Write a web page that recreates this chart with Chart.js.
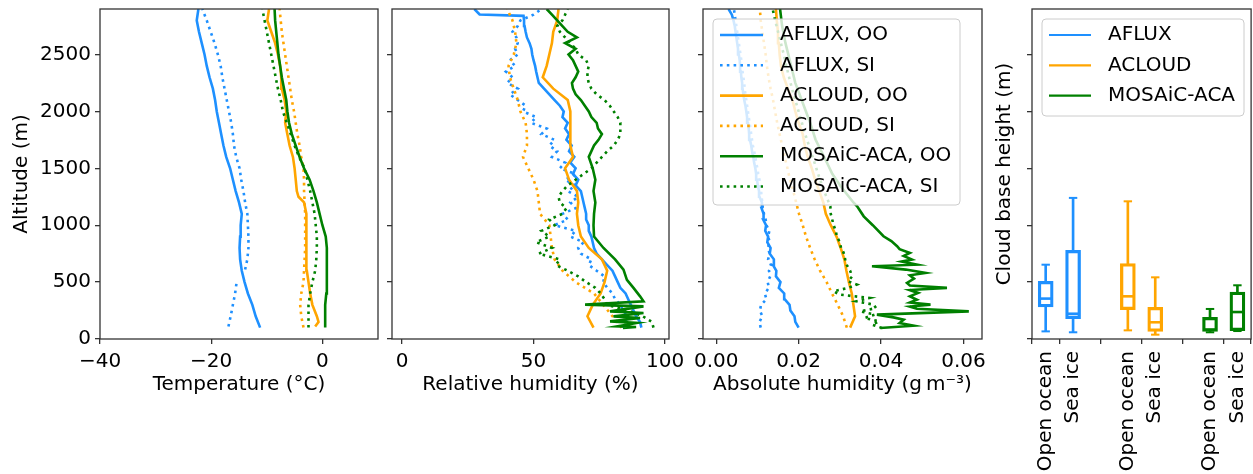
<!DOCTYPE html>
<html>
<head>
<meta charset="utf-8">
<script src="https://cdn.jsdelivr.net/npm/chart.js@4.4.1/dist/chart.umd.min.js"></script>
<style>
html, body { margin: 0; padding: 0; background: #fff; overflow: hidden; width: 1253px; height: 474px; }
canvas { position: absolute; left: 0; top: 0; }
</style>
</head>
<body>
<canvas id="temp" width="1260" height="474"></canvas>
<canvas id="rh" width="1260" height="474"></canvas>
<canvas id="ah" width="1260" height="474"></canvas>
<canvas id="cbh" width="1260" height="474"></canvas>
<script>
// altitude levels (m)
const altTicks = [0, 500, 1000, 1500, 2000, 2500];
const altMax = 2900;
const altGrid = [100, 200, 300, 400, 500, 600, 700, 800, 900, 1000,
  1100, 1200, 1300, 1400, 1500, 1600, 1700, 1800, 1900, 2000,
  2100, 2200, 2300, 2400, 2500, 2600, 2700, 2800, 2900];
const altFine = [100, 150, 200, 250, 300, 350, 400, 450, 500, 550,
  600, 650, 700, 750, 800, 850, 900, 950, 1000, 1050,
  1100, 1150, 1200, 1250, 1300, 1350, 1400, 1450, 1500, 1550,
  1600, 1650, 1700, 1750, 1800, 1850, 1900, 1950, 2000, 2050,
  2100, 2150, 2200, 2250, 2300, 2350, 2400, 2450, 2500, 2550,
  2600, 2650, 2700, 2750, 2800, 2850, 2900];

// temperature (deg C)
const tempAfluxOO = [-11.2, -12.0, -12.6, -13.4, -14.0, -14.5, -14.8, -14.9, -14.8, -14.7,
  -14.5, -15.0, -15.6, -16.1, -16.6, -17.3, -17.8, -18.2, -18.6, -19.0,
  -19.3, -19.7, -20.3, -20.8, -21.2, -21.7, -22.2, -22.6, -22.3];
const tempAfluxSIAlt = [110, 200, 300, 400, 510, 560, 610, 700, 800, 900, 1000,
  1100, 1200, 1300, 1400, 1500, 1600, 1700, 1800, 1900, 2000,
  2100, 2200, 2300, 2400, 2500, 2600, 2700, 2800, 2900];
const tempAfluxSI = [-16.9, -16.5, -16.1, -15.7, -15.4, NaN, -13.9, -13.5, -13.3, -13.3, -13.4,
  -13.5, -13.9, -14.2, -14.6, -14.9, -15.5, -15.9, -16.1, -16.4, -16.8,
  -17.2, -17.6, -18.0, -18.3, -18.8, -19.4, -20.1, -20.8, -21.6];
const tempAcloudOOAlt = [110, 150, 200, 300, 400, 500, 600, 700, 800, 900, 1000, 1100, 1200, 1250,
  1300, 1400, 1500, 1600, 1700, 1800, 1900, 2000, 2100, 2200, 2300, 2400, 2500, 2600, 2700, 2800, 2900];
const tempAcloudOO = [-1.3, -0.7, -1.0, -1.8, -2.2, -2.5, -2.8, -2.9, -2.9, -2.9, -2.8, -2.9, -3.3, -4.3,
  -4.6, -4.8, -5.0, -5.3, -5.9, -6.3, -6.7, -6.5, -6.8, -7.3, -7.4, -7.6, -8.0, -8.5, -9.2, -9.9, -9.6];
const tempAcloudSI = [-3.4, -3.8, -4.0, -3.8, -3.4, -3.3, -3.2, -3.1, -3.1, -3.1,
  -3.1, -3.2, -3.3, -3.3, -3.4, -3.8, -4.1, -4.5, -4.8, -5.1,
  -5.5, -5.8, -6.1, -6.4, -6.7, -7.0, -7.3, -7.5, -7.7];
const tempMosaicOO = [0.5, 0.5, 0.5, 0.7, 0.8, 0.8, 0.8, 0.8, 0.6, 0.0,
  -0.5, -1.0, -1.6, -2.3, -3.3, -4.1, -4.8, -5.5, -6.0, -6.3,
  -6.5, -6.9, -7.3, -7.6, -7.9, -8.1, -8.3, -8.5, -8.6];
const tempMosaicSI = [-2.5, -2.5, -2.5, -2.2, -1.8, -1.3, -1.1, -1.0, -1.0, -1.2,
  -1.4, -1.8, -2.2, -2.7, -3.2, -4.2, -5.0, -5.7, -6.4, -7.1,
  -7.5, -8.0, -8.4, -8.8, -9.2, -9.6, -10.0, -10.4, -10.8];

// relative humidity (%)
const rhAfluxOOAlt = [100, 150, 200, 250, 300, 350, 400, 450, 500, 550,
  600, 650, 700, 750, 800, 850, 900, 950, 1000, 1050,
  1100, 1150, 1200, 1250, 1300, 1350, 1400, 1450, 1500, 1550,
  1600, 1650, 1700, 1750, 1800, 1850, 1900, 1950, 2000, 2050,
  2100, 2150, 2200, 2250, 2300, 2350, 2400, 2450, 2500, 2550,
  2600, 2650, 2700, 2750, 2800, 2840, 2852, 2900];
const rhAfluxOO = [91, 90.5, 89, 88, 87, 86, 85, 83, 82, 81,
  80, 78, 76, 74, 73, 72.5, 72, 71, 71, 70,
  70, 69.5, 69, 68.5, 68, 66, 67, 65, 66, 64,
  65.5, 63.5, 64.5, 62.5, 63.5, 62, 63, 61, 61.5, 60,
  58, 56, 54, 52, 51.5, 51, 50.6, 50, 49.5, 49.2,
  48.5, 47.5, 47, 46.6, 46.4, 46.2, 29.5, 27.5];
const rhAfluxSI = [84, 85, 85.5, 84, 83, 81, 80, 78, 76.5, 77,
  74, 71, 72, 68, 67, 69, 64, 66, 58, 63,
  61, 66, 64, 67, 63, 66, 62, 66, 60, 62,
  57, 59, 56, 58, 53, 55, 49, 51, 46, 47,
  44, 41, 44, 40, 42, 39.5, 43, 41, 44, 43,
  44, 43.5, 42, 44, 45, 50, 53];
const rhAcloudOO = [72.8, 70.5, 72.5, 75.5, 77, 78, 76, 71, 68, 67,
  66.5, 67, 66.5, 63.5, 62, 65, 64, 64, 64, 64,
  63, 57.5, 53.5, 55, 56, 57, 57.5, 59, 59.5];
const rhAcloudSI = [83.5, 80, 76.5, 73, 66, 61, 58, 57, 56.5, 56,
  52.5, 52, 51.5, 50, 48, 46, 47.5, 47.5, 47, 45,
  44, 42.5, 41, 40.5, 42.5, 43.5, 43, 42, 40];
const rhMosaicOOAlt = [97, 105, 111, 141, 155, 185, 199, 229, 243, 287,
  302, 331, 375, 449, 520, 610, 700, 800, 900, 1000,
  1100, 1200, 1300, 1400, 1500, 1600, 1700, 1750, 1800, 1850,
  1900, 1950, 2000, 2050, 2100, 2150, 2200, 2250, 2300, 2350,
  2400, 2450, 2500, 2550, 2600, 2650, 2700, 2750, 2800, 2850, 2900];
const rhMosaicOO = [84, 89, 81.7, 89.2, 79.1, 90.5, 80.4, 91.8, 79.1, 91.8,
  69.6, 91.8, 90.5, 88, 85.5, 84.2, 81, 76.6, 73, 72.8,
  73, 73.5, 72.8, 73.5, 72.5, 71, 73, 74.7, 76, 74.5,
  74, 72, 71, 69.5, 68, 66, 65, 64.6, 66, 67,
  66, 65, 63.3, 66, 62, 66.5, 63, 61, 59, 57, 55];
const rhMosaicSI = [95.6, 95, 91.5, 86, 78, 77, 75.5, 73.5, 70, 67,
  63, 58.5, 60, 52, 57, 51, 56, 53, 58, 56,
  61, 62.5, 60, 59.5, 61, 63, 66, 69, 72, 74,
  76, 78, 80.5, 82, 83, 83, 83, 82, 80.5, 79,
  77, 74, 72, 71, 70.5, 70.5, 71, 70, 67, 66,
  64, 62, 60, 59, 61, 62, 63];

// absolute humidity (g m-3)
const ahAfluxOO = [0.0200, 0.0192, 0.0190, 0.0180, 0.0178, 0.0166, 0.0165, 0.0152, 0.0156, 0.0145,
  0.0146, 0.0138, 0.0140, 0.0130, 0.0132, 0.0124, 0.0126, 0.0119, 0.0121, 0.0114,
  0.0115, 0.0110, 0.0111, 0.0105, 0.0104, 0.0101, 0.0099, 0.0097, 0.0095, 0.0092,
  0.0090, 0.0087, 0.0085, 0.0082, 0.0080, 0.0079, 0.0077, 0.0075, 0.0073, 0.0071,
  0.0068, 0.0066, 0.0064, 0.0063, 0.0061, 0.0060, 0.0058, 0.0057, 0.0055, 0.0053,
  0.0051, 0.0049, 0.0047, 0.0045, 0.0042, 0.0038, 0.0030];
const ahAfluxSI = [0.0108, 0.0105, 0.0112, 0.0106, 0.0109, 0.0122, 0.0118, 0.0128, 0.0125, 0.0131,
  0.0128, 0.0133, 0.0126, 0.0130, 0.0125, 0.0130, 0.0126, 0.0129, 0.0122, 0.0120,
  0.0116, 0.0113, 0.0112, 0.0110, 0.0109, 0.0107, 0.0105, 0.0102, 0.0100, 0.0097,
  0.0095, 0.0092, 0.0089, 0.0087, 0.0085, 0.0083, 0.0081, 0.0079, 0.0077, 0.0075,
  0.0073, 0.0071, 0.0069, 0.0068, 0.0066, 0.0064, 0.0062, 0.0061, 0.0059, 0.0057,
  0.0055, 0.0053, 0.0051, 0.0049, 0.0047, 0.0045, 0.0043];
const ahAcloudOO = [0.0325, 0.0337, 0.0333, 0.0329, 0.0322, 0.0316, 0.0311, 0.0302, 0.0292, 0.0278,
  0.0266, 0.0260, 0.0250, 0.0240, 0.0232, 0.0222, 0.0215, 0.0210, 0.0200, 0.0192,
  0.0185, 0.0174, 0.0164, 0.0157, 0.0154, 0.0152, 0.0150, 0.0147, 0.0145];
const ahAcloudSI = [0.0317, 0.0308, 0.0295, 0.0281, 0.0268, 0.0252, 0.0239, 0.0228, 0.0218, 0.0210,
  0.0201, 0.0194, 0.0187, 0.0179, 0.0173, 0.0166, 0.0160, 0.0154, 0.0148, 0.0143,
  0.0138, 0.0132, 0.0127, 0.0123, 0.0120, 0.0116, 0.0112, 0.0108, 0.0106];
const ahMosaicOOAlt = [97, 117, 140, 170, 190, 214, 243, 266, 285, 302,
  320, 345, 375, 405, 430, 449, 470, 493, 530, 560,
  580, 610, 639, 653, 680, 698, 730, 756, 790, 815,
  860, 903, 1000, 1078, 1166, 1200, 1342, 1450, 1577, 1753,
  1900, 2017, 2251, 2398, 2602, 2750, 2900];
const ahMosaicOO = [0.0398, 0.0479, 0.0445, 0.0455, 0.0430, 0.0390, 0.0613, 0.0487, 0.0470, 0.0520,
  0.0470, 0.0487, 0.0470, 0.0490, 0.0470, 0.0560, 0.0470, 0.0463, 0.0480, 0.0470,
  0.0508, 0.0460, 0.0378, 0.0487, 0.0450, 0.0475, 0.0455, 0.0470, 0.0445, 0.0439,
  0.0425, 0.0406, 0.0380, 0.0358, 0.0342, 0.0333, 0.0302, 0.0282, 0.0265, 0.0241,
  0.0228, 0.0216, 0.0192, 0.0182, 0.0168, 0.0160, 0.0155];
const ahMosaicSIAlt = [97, 126, 155, 185, 214, 243, 272, 302, 331, 360,
  390, 419, 449, 478, 507, 550, 600, 650, 700, 760,
  800, 850, 900, 950, 1000, 1100, 1166, 1300, 1400, 1500,
  1600, 1700, 1800, 1900, 2000, 2100, 2200, 2300, 2400, 2500,
  2600, 2700, 2800, 2900];
const ahMosaicSI = [0.0402, 0.0378, 0.0395, 0.0360, 0.0385, 0.0350, 0.0388, 0.0382, 0.0340, 0.0372,
  0.0300, 0.0285, 0.0320, 0.0341, 0.0320, 0.0330, 0.0325, 0.0317, 0.0313, 0.0309,
  0.0303, 0.0300, 0.0293, 0.0290, 0.0285, 0.0278, 0.0277, 0.0262, 0.0252, 0.0243,
  0.0234, 0.0225, 0.0216, 0.0208, 0.0200, 0.0192, 0.0184, 0.0177, 0.0170, 0.0164,
  0.0157, 0.0150, 0.0143, 0.0137];

// cloud base height box plots (m)
const campaigns = ['AFLUX', 'ACLOUD', 'MOSAiC-ACA'];
const boxPositions = [1, 2, 4, 5, 7, 8];
const boxLabels = ['Open ocean', 'Sea ice', 'Open ocean', 'Sea ice', 'Open ocean', 'Sea ice'];
const cbhWhiskerLow = [67, 59, 76, 38, 59, 70];
const cbhQ1 = [281, 179, 258, 67, 67, 73];
const cbhMedian = [355, 222, 375, 147, 82, 237];
const cbhQ3 = [507, 780, 662, 278, 190, 413];
const cbhWhiskerHigh = [653, 1240, 1210, 542, 264, 472];

const tempTicks = [-40, -20, 0];
const rhTicks = [0, 50, 100];
const ahTicks = [0, 0.02, 0.04, 0.06];

const colors = ['#1e90ff', '#ffa500', '#008000'];
const FRAME = '#333';
const FONT = { family: "'DejaVu Sans', sans-serif", size: 20 };
const LW = 2.6;
const DOTS = [2.6, 4.2];

Chart.defaults.color = '#000';
Chart.defaults.font = FONT;

function profile(label, color, dotted, alts, vals, i) {
  return {
    label: label,
    data: alts.map((a, k) => ({ x: vals[k], y: a })),
    showLine: true,
    borderColor: color,
    borderWidth: LW,
    borderDash: dotted ? DOTS : [],
    borderCapStyle: 'butt',
    pointRadius: 0,
    spanGaps: false,
    order: -i,
    inLegend: true
  };
}

function sixProfiles(series) {
  const names = ['AFLUX, OO', 'AFLUX, SI', 'ACLOUD, OO', 'ACLOUD, SI', 'MOSAiC-ACA, OO', 'MOSAiC-ACA, SI'];
  return series.map((s, i) => profile(names[i], colors[Math.floor(i / 2)], i % 2 === 1, s[0], s[1], i));
}

const gridOpts = { drawOnChartArea: false, drawTicks: true, tickLength: 5, color: FRAME, lineWidth: 1.3 };

function yAxis(width, showLabels, title, titlePad) {
  return {
    type: 'linear', min: 0, max: altMax,
    afterBuildTicks: s => { s.ticks = altTicks.map(v => ({ value: v })); },
    afterFit: s => { s.width = width; s.paddingTop = 0; s.paddingBottom = 0; },
    border: { display: false },
    grid: gridOpts,
    ticks: { display: showLabels, padding: 4, callback: v => String(v) },
    title: { display: !!title, text: title || '', padding: { top: titlePad || 0, bottom: 0 } }
  };
}

function xAxis(min, max, ticks, fmt, title) {
  return {
    type: 'linear', min: min, max: max, offset: false,
    afterBuildTicks: s => { s.ticks = ticks.map(v => ({ value: v })); },
    afterFit: s => { s.height = 135; s.paddingLeft = 0; s.paddingRight = 0; },
    border: { display: false },
    grid: gridOpts,
    ticks: { padding: 6, autoSkip: false, maxRotation: 0, callback: fmt },
    title: { display: !!title, text: title || '', padding: { top: 0, bottom: 77 } }
  };
}

const framePlugin = {
  id: 'frame',
  afterDatasetsDraw(chart) {
    const { ctx, chartArea: a } = chart;
    ctx.save();
    ctx.strokeStyle = FRAME;
    ctx.lineWidth = 1.3;
    ctx.strokeRect(a.left, a.top, a.right - a.left, a.bottom - a.top);
    ctx.restore();
  }
};

const legendPlugin = {
  id: 'boxLegend',
  afterDatasetsDraw(chart, args, o) {
    if (!o || !o.w) return;
    const ctx = chart.ctx;
    const items = chart.data.datasets.filter(d => d.inLegend);
    ctx.save();
    ctx.beginPath();
    ctx.roundRect(o.x, o.y, o.w, o.h, 4);
    ctx.fillStyle = 'rgba(255,255,255,0.8)';
    ctx.fill();
    ctx.strokeStyle = '#cccccc';
    ctx.lineWidth = 1;
    ctx.stroke();
    ctx.font = "20px 'DejaVu Sans', sans-serif";
    ctx.textBaseline = 'middle';
    ctx.fillStyle = '#000';
    items.forEach((d, i) => {
      const y = o.y + o.first + i * o.step;
      ctx.beginPath();
      ctx.strokeStyle = d.borderColor;
      ctx.lineWidth = d.legendWidth || LW;
      ctx.lineCap = 'butt';
      ctx.setLineDash(d.borderDash || []);
      ctx.moveTo(o.x + o.lineX0, y);
      ctx.lineTo(o.x + o.lineX1, y);
      ctx.stroke();
      ctx.setLineDash([]);
      ctx.fillText(d.label, o.x + o.textX, y);
    });
    ctx.restore();
  }
};

function baseOptions(padLeft, padRight, xCfg, yCfg, legend) {
  return {
    responsive: false,
    animation: false,
    events: [],
    layout: { padding: { left: padLeft, right: padRight, top: 9, bottom: 0 } },
    plugins: { legend: { display: false }, tooltip: { enabled: false }, boxLegend: legend || {} },
    scales: { x: xCfg, y: yCfg }
  };
}

const minus = v => (v < 0 ? '\u2212' + Math.abs(v) : String(v));

// panel 1: temperature
new Chart(document.getElementById('temp'), {
  type: 'scatter',
  data: { datasets: sixProfiles([
    [altGrid, tempAfluxOO], [tempAfluxSIAlt, tempAfluxSI],
    [tempAcloudOOAlt, tempAcloudOO], [altGrid, tempAcloudSI],
    [altGrid, tempMosaicOO], [altGrid, tempMosaicSI]
  ]) },
  options: baseOptions(0, 882,
    xAxis(-40, 10, tempTicks, minus, 'Temperature (\u00b0C)'),
    yAxis(100, true, 'Altitude (m)', 10)),
  plugins: [framePlugin, legendPlugin]
});

// panel 2: relative humidity
new Chart(document.getElementById('rh'), {
  type: 'scatter',
  data: { datasets: sixProfiles([
    [rhAfluxOOAlt, rhAfluxOO], [altFine, rhAfluxSI],
    [altGrid, rhAcloudOO], [altGrid, rhAcloudSI],
    [rhMosaicOOAlt, rhMosaicOO], [altFine, rhMosaicSI]
  ]) },
  options: baseOptions(384, 591,
    xAxis(-3.8, 101.5, rhTicks, v => String(v), 'Relative humidity (%)'),
    yAxis(8, false)),
  plugins: [framePlugin, legendPlugin]
});

// panel 3: absolute humidity, with legend
new Chart(document.getElementById('ah'), {
  type: 'scatter',
  data: { datasets: sixProfiles([
    [altFine, ahAfluxOO], [altFine, ahAfluxSI],
    [altGrid, ahAcloudOO], [altGrid, ahAcloudSI],
    [ahMosaicOOAlt, ahMosaicOO], [ahMosaicSIAlt, ahMosaicSI]
  ]) },
  options: baseOptions(695, 278,
    xAxis(-0.0032, 0.0645, ahTicks, v => v.toFixed(2), 'Absolute humidity (g\u2009m\u207b\u00b3)'),
    yAxis(8, false),
    { x: 713, y: 19, w: 247, h: 186, first: 16, step: 30.3, lineX0: 7, lineX1: 50, textX: 67 }),
  plugins: [framePlugin, legendPlugin]
});

// panel 4: cloud base height box plots
const boxSets = [], whiskerSets = [], medianSets = [], capSets = [];
campaigns.forEach((name, g) => {
  const idx = [2 * g, 2 * g + 1];
  boxSets.push({
    type: 'bar', label: name, inLegend: true, legendWidth: 2.2,
    data: idx.map(k => ({ x: boxPositions[k], y: [cbhQ1[k], cbhQ3[k]] })),
    backgroundColor: 'rgba(0,0,0,0)', borderColor: colors[g], borderWidth: 2.6,
    borderSkipped: false, barThickness: 15, grouped: false
  });
  whiskerSets.push({
    type: 'bar',
    data: idx.flatMap(k => [
      { x: boxPositions[k], y: [cbhWhiskerLow[k], cbhQ1[k]] },
      { x: boxPositions[k], y: [cbhQ3[k], cbhWhiskerHigh[k]] }
    ]),
    backgroundColor: colors[g], borderWidth: 0, barThickness: 2, grouped: false
  });
  medianSets.push({
    type: 'scatter',
    data: idx.map(k => ({ x: boxPositions[k], y: cbhMedian[k] })),
    pointStyle: 'line', pointRadius: 6.3, pointBorderWidth: 2.6,
    borderColor: colors[g], pointBorderColor: colors[g]
  });
  capSets.push({
    type: 'scatter',
    data: idx.flatMap(k => [
      { x: boxPositions[k], y: cbhWhiskerLow[k] },
      { x: boxPositions[k], y: cbhWhiskerHigh[k] }
    ]),
    pointStyle: 'line', pointRadius: 4.2, pointBorderWidth: 2,
    borderColor: colors[g], pointBorderColor: colors[g]
  });
});

const cbhX = {
  type: 'linear', min: 0.5, max: 8.5, offset: false,
  afterBuildTicks: s => { s.ticks = boxPositions.map(v => ({ value: v })); },
  afterFit: s => { s.height = 135; s.paddingLeft = 0; s.paddingRight = 0; },
  border: { display: false },
  grid: gridOpts,
  ticks: {
    padding: 7, autoSkip: false, minRotation: 90, maxRotation: 90,
    callback: v => boxLabels[boxPositions.indexOf(v)] || ''
  }
};

new Chart(document.getElementById('cbh'), {
  type: 'bar',
  data: { datasets: [...boxSets, ...whiskerSets, ...medianSets, ...capSets] },
  options: baseOptions(985, 6, cbhX, yAxis(47, false, 'Cloud base height (m)', 8),
    { x: 1042, y: 19, w: 202, h: 97, first: 16, step: 30.3, lineX0: 7, lineX1: 49, textX: 66 }),
  plugins: [framePlugin, legendPlugin]
});
</script>
</body>
</html>
